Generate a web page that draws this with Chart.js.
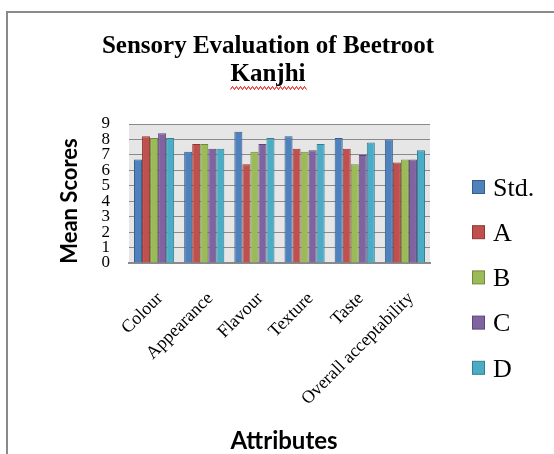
<!DOCTYPE html>
<html><head><meta charset="utf-8">
<script src="https://cdn.jsdelivr.net/npm/chart.js@4/dist/chart.umd.min.js"></script>
<style>
html,body{margin:0;padding:0;background:#fff;}
#wrap{position:relative;width:554px;height:454px;overflow:hidden;}
#frame{position:absolute;left:6px;top:11px;width:600px;height:500px;border-left:2px solid #8a8a8a;border-top:2px solid #8a8a8a;box-sizing:border-box;pointer-events:none;}
canvas{position:absolute;left:0;top:0;}
</style></head>
<body><div id="wrap"><canvas id="c" width="554" height="454"></canvas><div id="frame"></div></div>
<script>
const titleLines = ['Sensory Evaluation of Beetroot', 'Kanjhi'];
const yAxisTitle = 'Mean Scores';
const xAxisTitle = 'Attributes';
const categories = ['Colour','Appearance','Flavour','Texture','Taste','Overall acceptability'];
const seriesNames = ['Std.','A','B','C','D'];
const stdValues = [6.7, 7.2, 8.5, 8.2, 8.1, 8.0];
const aValues   = [8.2, 7.7, 6.4, 7.4, 7.4, 6.5];
const bValues   = [8.1, 7.7, 7.2, 7.2, 6.4, 6.7];
const cValues   = [8.4, 7.4, 7.7, 7.3, 7.0, 6.7];
const dValues   = [8.1, 7.4, 8.1, 7.7, 7.8, 7.3];
const yTicks = [0,1,2,3,4,5,6,7,8,9];
const fills   = ['#4F81BD','#C0504D','#9BBB59','#8064A2','#4BACC6'];
const borders = ['#385D8A','#8C3836','#71893F','#5C4776','#357D91'];
const values = [stdValues,aValues,bValues,cValues,dValues];

const SERIF = '"Liberation Serif","Times New Roman",serif';
const SANS = 'Lato,"Liberation Sans",sans-serif';

const decorPlugin = {
  id:'decor',
  beforeDraw(chart){
    const {ctx, chartArea:a} = chart;
    ctx.save(); ctx.fillStyle='#e6e6e6';
    ctx.fillRect(a.left,a.top,a.right-a.left,a.bottom-a.top);
    ctx.restore();
  },
  afterDraw(chart){
    const ctx = chart.ctx;
    ctx.save();
    ctx.fillStyle='#000'; ctx.textAlign='center'; ctx.textBaseline='middle';
    // chart title
    ctx.font = 'bold 25px '+SERIF;
    ctx.fillText(titleLines[0], 268, 47);
    ctx.fillText(titleLines[1], 268, 75);
    const w = ctx.measureText(titleLines[1]).width;
    ctx.strokeStyle='#e00000'; ctx.lineWidth=1; ctx.beginPath();
    const x0 = 268 - w/2, y0 = 88;
    for (let i=0;i<=Math.ceil(w/2);i++){ const x=x0+i*2, y=y0+(i%2?-1.5:1.5); i?ctx.lineTo(x,y):ctx.moveTo(x,y);}
    ctx.stroke();
    // axis titles
    ctx.font = 'bold 22px '+SANS;
    ctx.save(); ctx.translate(70, 201); ctx.rotate(-Math.PI/2);
    ctx.fillText(yAxisTitle, 0, 0); ctx.restore();
    ctx.font = 'bold 24px '+SANS;
    ctx.fillText(xAxisTitle, 284, 441);
    // legend
    ctx.font = '26px '+SERIF; ctx.textAlign='left';
    chart.data.datasets.forEach((ds,i)=>{
      const cy = 187 + i*45.2;
      ctx.fillStyle = ds.backgroundColor; ctx.strokeStyle = ds.borderColor; ctx.lineWidth=1;
      ctx.fillRect(472.5,cy-6.5,12,13); ctx.strokeRect(472.5,cy-6.5,12,13);
      ctx.fillStyle='#000'; ctx.fillText(ds.label, 493, cy+2);
    });
    ctx.restore();
  }
};

new Chart(document.getElementById('c'), {
  type:'bar',
  data:{
    labels: categories,
    datasets: seriesNames.map((n,i)=>({label:n, data:values[i], backgroundColor:fills[i], borderColor:borders[i], borderWidth:1}))
  },
  options:{
    responsive:false, animation:false,
    devicePixelRatio:1,
    layout:{padding:{top:124,left:8,right:124,bottom:0}},
    datasets:{bar:{categoryPercentage:0.8,barPercentage:1}},
    plugins:{legend:{display:false},title:{display:false},tooltip:{enabled:false}},
    scales:{
      x:{
        afterFit(s){ s.height = 454-263; },
        grid:{display:false, drawTicks:false},
        border:{color:'#8a8a8a', width:2},
        ticks:{color:'#000', font:{family:SERIF,size:18}, maxRotation:45, minRotation:45, padding:25, labelOffset:6, autoSkip:false}
      },
      y:{
        min:0,max:9,
        afterFit(s){ s.width = 129-8; },
        afterBuildTicks(s){ s.ticks = yTicks.map(v=>({value:v})); },
        grid:{color:'#8a8a8a', lineWidth:1, drawTicks:false},
        border:{display:false},
        ticks:{color:'#000', font:{family:SERIF,size:17}, padding:19, autoSkip:false}
      }
    }
  },
  plugins:[decorPlugin]
});
</script></body></html>
